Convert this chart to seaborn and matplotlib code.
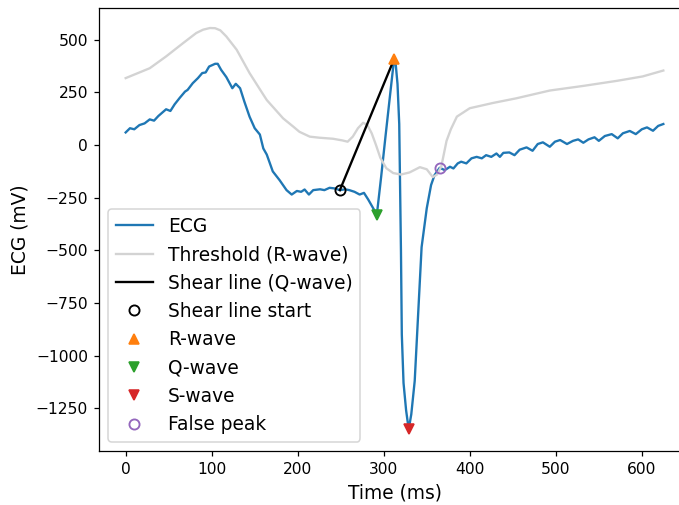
import numpy as np
import pandas as pd
import matplotlib
matplotlib.use("Agg")
import matplotlib.pyplot as plt
import seaborn as sns

# ---- data ----
ecg_t = [0, 5, 10, 16, 22, 28, 33, 38, 47, 52, 57, 63, 69, 72, 78, 84, 89, 93, 97,
         104, 107, 111, 117, 124, 128, 133, 138, 144, 150, 156, 160, 164, 171, 179,
         187, 193, 199, 204, 208, 213, 218, 226, 231, 237, 243, 249, 255, 260, 266,
         272, 277, 282, 288, 292, 297, 302, 307, 312, 314, 316, 318, 319, 320, 321,
         323, 326, 329, 332, 336, 340, 344, 350, 355, 359, 365, 371, 377, 381, 386,
         390, 396, 402, 408, 414, 419, 425, 431, 435, 439, 446, 452, 458, 466, 473,
         479, 485, 493, 499, 505, 513, 520, 526, 532, 538, 545, 550, 557, 565, 572,
         578, 586, 593, 600, 606, 613, 619, 625]
ecg_v = [60, 80, 75, 95, 103, 122, 116, 138, 170, 162, 194, 225, 254, 262, 294, 318,
         342, 345, 373, 386, 386, 357, 323, 270, 291, 270, 206, 135, 80, 50, -16, -45,
         -125, -167, -214, -235, -218, -222, -211, -235, -214, -210, -214, -203, -206,
         -214, -210, -214, -222, -235, -227, -259, -302, -330, -150, 40, 225, 408, 380,
         290, 100, -200, -500, -900, -1130, -1260, -1350, -1279, -1120, -802, -485,
         -300, -190, -143, -108, -119, -103, -111, -87, -79, -87, -63, -56, -63, -48,
         -56, -40, -56, -37, -35, -48, -22, -11, -27, 5, 13, -8, 16, 24, 5, 20, 27, 11,
         27, 37, 20, 43, 52, 32, 56, 67, 52, 75, 84, 68, 91, 100]

thr_t = [0, 28, 47, 67, 82, 90, 98, 104, 110, 117, 129, 144, 156, 164, 183, 195, 202,
         214, 225, 241, 252, 258, 264, 270, 276, 281, 286, 291, 296, 303, 311, 320,
         330, 342, 350, 357, 362, 367, 373, 378, 385, 400, 427, 454, 493, 532, 571,
         601, 625]
thr_v = [318, 365, 421, 485, 532, 548, 556, 555, 545, 516, 453, 342, 265, 214, 127,
         87, 63, 40, 35, 30, 22, 16, 40, 80, 106, 95, 56, 0, -60, -110, -133, -140,
         -130, -105, -115, -152, -140, -100, 20, 75, 135, 175, 200, 222, 259, 281,
         305, 326, 354]

shear_t = [249, 312]
shear_v = [-214, 408]

start_t, start_v = [249], [-214]
r_t, r_v = [312], [408]
q_t, q_v = [292], [-330]
s_t, s_v = [329], [-1350]
fp_t, fp_v = [365], [-108]

ecg = pd.DataFrame({"t": ecg_t, "v": ecg_v})
thr = pd.DataFrame({"t": thr_t, "v": thr_v})
shear = pd.DataFrame({"t": shear_t, "v": shear_v})

fig = plt.figure(figsize=(679 / 112, 505 / 112), dpi=112)
ax = fig.add_axes([99 / 679, 1 - 451 / 505, 591 / 679, 443 / 505])

sns.lineplot(data=ecg, x="t", y="v", ax=ax, color="#1f77b4", lw=1.5, label="ECG")
sns.lineplot(data=thr, x="t", y="v", ax=ax, color="lightgray", lw=1.5,
             label="Threshold (R-wave)")
sns.lineplot(data=shear, x="t", y="v", ax=ax, color="black", lw=1.5,
             label="Shear line (Q-wave)")

ax.plot(start_t, start_v, ls="none", marker="o", ms=6.5, mfc="none", mec="black",
        mew=1.2, label="Shear line start")
ax.plot(r_t, r_v, ls="none", marker="^", ms=7, color="#ff7f0e", label="R-wave")
ax.plot(q_t, q_v, ls="none", marker="v", ms=7, color="#2ca02c", label="Q-wave")
ax.plot(s_t, s_v, ls="none", marker="v", ms=7, color="#d62728", label="S-wave")
ax.plot(fp_t, fp_v, ls="none", marker="o", ms=6.5, mfc="none", mec="#9467bd",
        mew=1.2, label="False peak")

ax.set_xlim(-31, 656)
ax.set_ylim(-1453, 651)
ax.set_xticks([0, 100, 200, 300, 400, 500, 600])
ax.set_yticks([500, 250, 0, -250, -500, -750, -1000, -1250])
ax.tick_params(labelsize=10)
ax.set_xlabel("Time (ms)", fontsize=12)
ax.set_ylabel("ECG (mV)", fontsize=12)
ax.legend(loc="lower left", fontsize=12)

fig.savefig("out.png", dpi=112)
